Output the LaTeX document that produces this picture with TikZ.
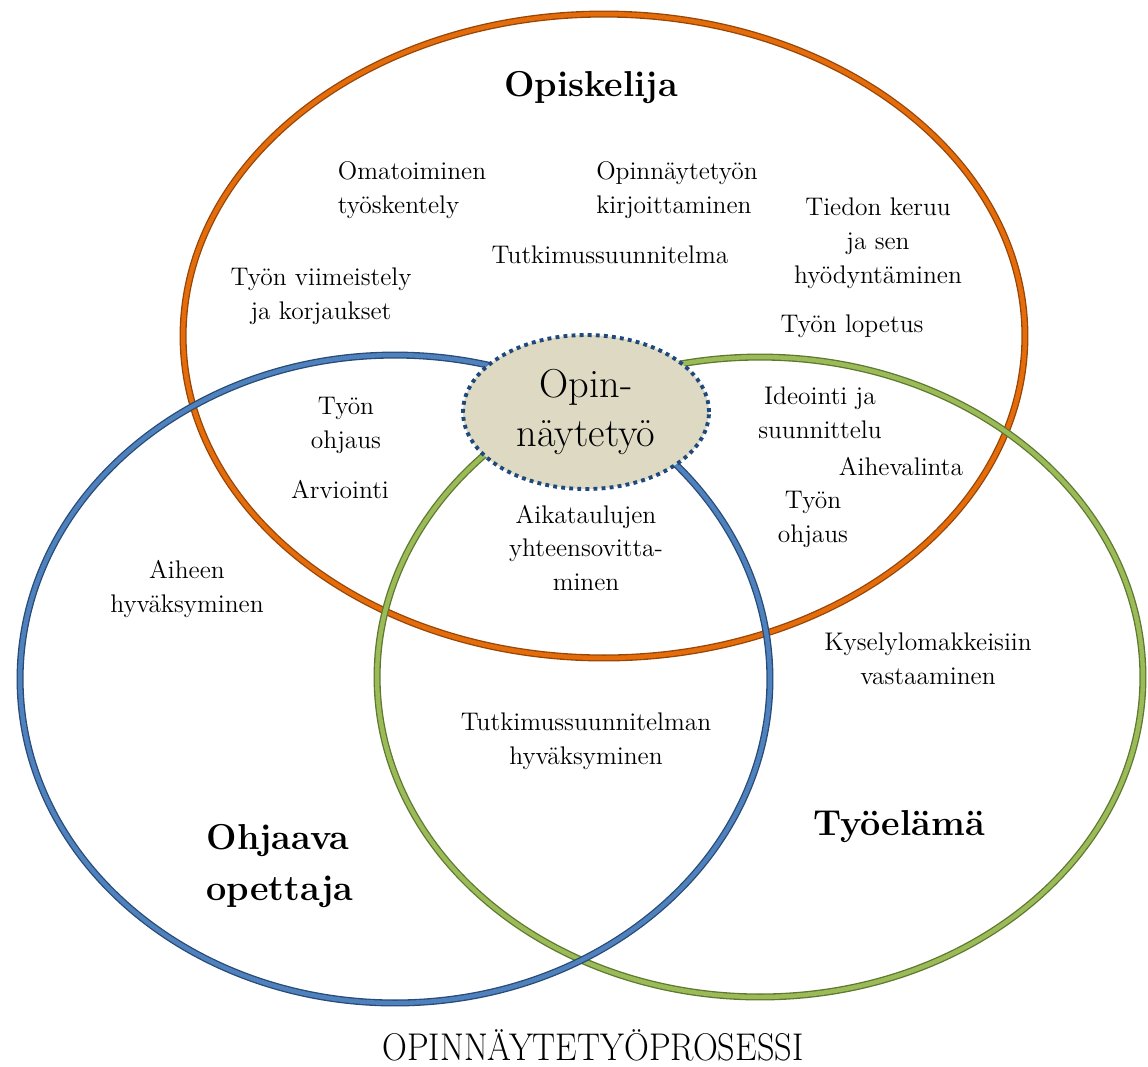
\documentclass[tikz,border=0pt]{standalone}
\usepackage{tikz}
\usetikzlibrary{shapes.geometric,positioning}
\definecolor{opsorange}{RGB}{228,108,10}
\definecolor{opsorangedk}{RGB}{150,70,8}
\definecolor{opsblue}{RGB}{79,129,189}
\definecolor{opsbluedk}{RGB}{40,75,120}
\definecolor{opsgreen}{RGB}{155,187,89}
\definecolor{opsgreendk}{RGB}{95,120,48}
\definecolor{opstan}{RGB}{221,217,195}
\definecolor{opsnavy}{RGB}{31,73,125}

\begin{document}
\begin{tikzpicture}[
  x=0.02cm, y=-0.02cm,
  ring/.style={ellipse, inner sep=0pt, line width=0.75pt, double distance=2.5pt},
  lbl/.style={align=center, inner sep=0pt, font=\fontsize{14.5}{19.3}\selectfont},
  head/.style={align=left, inner sep=0pt, font=\fontsize{20.5}{28}\selectfont\bfseries}
]
\useasboundingbox (0,0) rectangle (1148,1066);

% the three circles
\node[ring, draw=opsorangedk, double=opsorange, minimum width=16.84cm, minimum height=12.88cm] (opisk) at (604,336) {};
\node[ring, draw=opsgreendk, double=opsgreen, minimum width=15.32cm, minimum height=12.8cm] (tyoel) at (760,677) {};
\node[ring, draw=opsbluedk, double=opsblue, minimum width=15.0cm, minimum height=12.96cm] (ohjaa) at (395,679) {};

% centre
\node[ellipse, fill=opstan, draw=opsnavy, line width=2.2pt, dash pattern=on 2.2pt off 2.4pt,
      minimum width=4.92cm, minimum height=3.08cm, inner sep=0pt, align=center,
      font=\fontsize{23}{28.4}\selectfont] (ont) at (586,412) {Opin-\\näytetyö};

% headings
\node[head] (h1) at (591,88) {Opiskelija};
\node[head, font=\fontsize{20.5}{28.5}\selectfont\bfseries] (h2) at (280,866) {Ohjaava\\opettaja};
\node[head] (h3) at (899,827) {Työelämä};

% Opiskelija
\node[lbl, align=left] (omat) at (412,190) {Omatoiminen\\työskentely};
\node[lbl, align=left] (kirj) at (677,190) {Opinnäytetyön\\kirjoittaminen};
\node[lbl] (tsuun) at (610,255) {Tutkimussuunnitelma};
\node[lbl] (tied) at (878,243) {Tiedon keruu\\ja sen\\hyödyntäminen};
\node[lbl] (viim) at (321,296) {Työn viimeistely\\ja korjaukset};
\node[lbl] (lop) at (852,326) {Työn lopetus};

% Opiskelija + Työelämä
\node[lbl] (idea) at (820,413) {Ideointi ja\\suunnittelu};
\node[lbl] (aihev) at (901,467) {Aihevalinta};
\node[lbl] (ohj2) at (813,519) {Työn\\ohjaus};

% Opiskelija + Ohjaava opettaja
\node[lbl] (ohj1) at (346,425) {Työn\\ohjaus};
\node[lbl] (arv) at (340,490) {Arviointi};

% all three
\node[lbl] (aika) at (586,548) {Aikataulujen\\yhteensovitta-\\minen};

% Ohjaava opettaja
\node[lbl] (aihe) at (187,589) {Aiheen\\hyväksyminen};

% Työelämä
\node[lbl] (kysel) at (928,659) {Kyselylomakkeisiin\\vastaaminen};

% Ohjaava opettaja + Työelämä
\node[lbl] (tshyv) at (586,741) {Tutkimussuunnitelman\\hyväksyminen};

% title
\node[inner sep=0pt, anchor=base, font=\fontsize{22}{26}\selectfont] (title) at (593,1060) {\scalebox{0.89}[1]{OPINNÄYTETYÖPROSESSI}};
\end{tikzpicture}
\end{document}
